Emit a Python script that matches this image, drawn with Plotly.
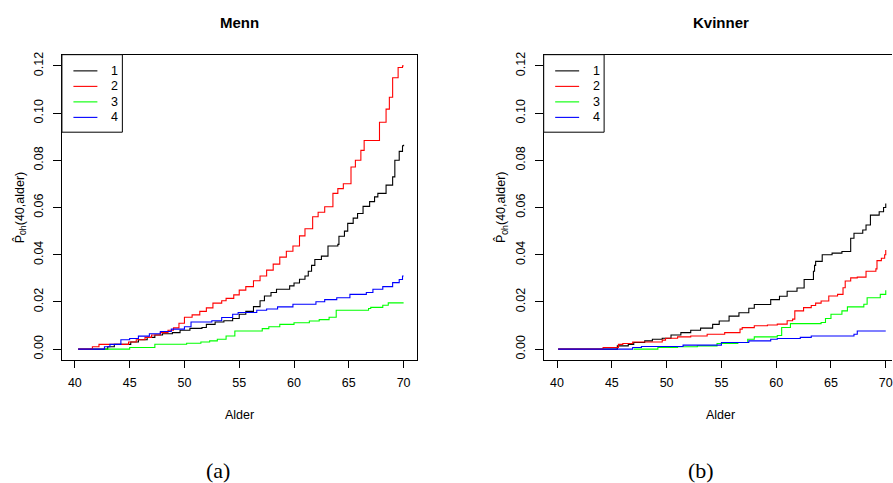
import plotly.graph_objects as go

# ---------------- data ----------------
groups = ["1", "2", "3", "4"]
colors = ["#000000", "#FF0000", "#00FF00", "#0000FF"]

# Menn (a)
menn_alder_1 = [40.3, 43.0, 43.6, 45.1, 45.8, 46.6, 47.3, 48.0, 48.9, 49.6, 50.5, 51.6, 52.0, 52.8, 53.6,
                54.4, 55.0, 55.6, 56.3, 56.9, 57.3, 57.9, 58.4, 59.6, 60.0, 60.5, 61.0, 61.3, 61.6, 61.9,
                62.5, 63.1, 64.0, 64.1, 64.6, 64.9, 65.4, 65.8, 66.3, 66.9, 67.35, 67.65, 68.4, 69.0,
                69.2, 69.6, 69.9, 70.0]
menn_p_1 = [0.0, 0.001, 0.002, 0.003, 0.004, 0.005, 0.006, 0.0065, 0.007, 0.008, 0.0088, 0.0092, 0.0105,
            0.0115, 0.012, 0.013, 0.0148, 0.016, 0.018, 0.0205, 0.0225, 0.024, 0.0254, 0.0268, 0.028,
            0.0296, 0.031, 0.033, 0.0355, 0.038, 0.0394, 0.0437, 0.0444, 0.0478, 0.050, 0.0533, 0.0555,
            0.0575, 0.0605, 0.0625, 0.0645, 0.066, 0.0695, 0.073, 0.080, 0.0838, 0.0862, 0.0866]

menn_alder_2 = [40.3, 41.6, 42.2, 44.9, 45.6, 46.4, 47.0, 47.8, 48.5, 49.0, 49.5, 50.0, 50.7, 51.4, 52.0,
                52.6, 53.4, 53.8, 54.5, 55.0, 55.6, 56.3, 56.9, 57.5, 58.1, 58.7, 59.3, 59.9, 60.5, 61.0,
                61.7, 62.2, 62.8, 63.55, 64.0, 64.5, 65.2, 65.6, 66.1, 66.4, 67.8, 68.4, 68.7, 69.0, 69.5,
                69.9, 70.0]
menn_p_2 = [0.0, 0.001, 0.002, 0.003, 0.004, 0.005, 0.006, 0.007, 0.008, 0.009, 0.011, 0.0135, 0.0145,
            0.016, 0.0175, 0.0195, 0.0205, 0.0215, 0.023, 0.025, 0.0265, 0.029, 0.031, 0.0335, 0.036,
            0.039, 0.0415, 0.0437, 0.048, 0.051, 0.0561, 0.058, 0.0603, 0.066, 0.068, 0.0701, 0.0772,
            0.080, 0.0842, 0.0884, 0.0961, 0.1017, 0.1067, 0.115, 0.1193, 0.120, 0.120]

menn_alder_3 = [42.7, 45.0, 47.3, 50.2, 51.5, 52.3, 53.0, 53.8, 54.6, 57.1, 57.7, 58.7, 60.0, 61.4, 62.3,
                63.2, 63.85, 66.8, 67.0, 68.1, 68.6, 70.0]
menn_p_3 = [0.0, 0.0007, 0.0021, 0.0025, 0.003, 0.0035, 0.0042, 0.0056, 0.0077, 0.0087, 0.0095, 0.0105,
            0.0112, 0.0119, 0.0125, 0.0135, 0.0165, 0.0172, 0.0177, 0.0186, 0.0196, 0.0196]

menn_alder_4 = [40.3, 42.7, 43.2, 44.2, 45.0, 45.8, 46.8, 47.8, 48.8, 50.0, 50.6, 52.5, 53.4, 54.4, 54.9,
                56.6, 57.5, 58.5, 59.9, 62.0, 62.8, 63.9, 65.1, 66.6, 67.2, 68.1, 69.0, 69.6, 69.9, 70.0]
menn_p_4 = [0.0, 0.001, 0.002, 0.004, 0.0045, 0.0055, 0.0065, 0.0075, 0.0085, 0.0095, 0.0115, 0.012,
            0.0134, 0.0148, 0.0155, 0.0165, 0.017, 0.0179, 0.019, 0.0201, 0.021, 0.0218, 0.0232, 0.024,
            0.0254, 0.0265, 0.0282, 0.0295, 0.031, 0.031]

# Kvinner (b)
kv_alder_1 = [40.1, 45.5, 46.5, 47.0, 48.0, 48.7, 49.6, 50.4, 51.3, 52.2, 53.1, 54.2, 54.8, 55.7, 56.6,
              57.5, 58.0, 59.5, 60.3, 61.0, 61.9, 62.55, 63.4, 63.5, 63.6, 64.2, 65.1, 66.0, 66.8, 67.1,
              67.9, 68.2, 68.6, 69.4, 69.8, 70.0]
kv_p_1 = [0.0, 0.0014, 0.002, 0.0028, 0.0035, 0.0042, 0.0046, 0.006, 0.007, 0.008, 0.0089, 0.0105,
          0.0119, 0.014, 0.0154, 0.0173, 0.0189, 0.021, 0.0224, 0.0245, 0.0259, 0.0295, 0.033, 0.0355,
          0.0372, 0.040, 0.0407, 0.0414, 0.047, 0.0491, 0.0505, 0.0526, 0.0568, 0.0582, 0.060, 0.0617]

kv_alder_2 = [40.1, 44.2, 45.6, 46.0, 46.9, 49.6, 49.9, 51.0, 52.2, 53.7, 55.3, 56.7, 56.9, 58.0, 59.2,
              60.1, 61.0, 61.5, 61.7, 62.5, 63.2, 63.6, 64.1, 64.8, 65.6, 66.1, 66.3, 66.8, 67.4, 68.2,
              69.1, 69.2, 69.6, 69.9, 70.0]
kv_p_2 = [0.0, 0.0007, 0.002, 0.0024, 0.003, 0.0038, 0.0046, 0.0052, 0.0056, 0.0063, 0.007, 0.0085,
          0.0091, 0.0099, 0.0102, 0.0106, 0.012, 0.0127, 0.0162, 0.0176, 0.0185, 0.0195, 0.0204, 0.0225,
          0.0232, 0.026, 0.0289, 0.0302, 0.0305, 0.033, 0.034, 0.0375, 0.0385, 0.040, 0.042]

kv_alder_3 = [47.0, 49.2, 51.0, 52.8, 54.6, 56.5, 57.4, 58.0, 60.1, 60.5, 61.3, 64.1, 64.5, 65.0, 66.0,
              66.5, 68.0, 68.3, 69.5, 70.0]
kv_p_3 = [0.0, 0.0007, 0.001, 0.0014, 0.0024, 0.0028, 0.0042, 0.0052, 0.0058, 0.0092, 0.0108, 0.0113,
          0.013, 0.0148, 0.0162, 0.0179, 0.019, 0.0218, 0.0232, 0.0249]

kv_alder_4 = [40.1, 46.9, 47.7, 51.5, 55.0, 57.5, 59.5, 60.1, 62.2, 63.2, 67.1, 67.4, 70.0]
kv_p_4 = [0.0, 0.0007, 0.0011, 0.0017, 0.0028, 0.0035, 0.0042, 0.0045, 0.005, 0.0056, 0.0063, 0.0077,
          0.0077]

x_ticks = [40, 45, 50, 55, 60, 65, 70]
y_ticks = [0.00, 0.02, 0.04, 0.06, 0.08, 0.10, 0.12]
y_ticktext = ["0.00", "0.02", "0.04", "0.06", "0.08", "0.10", "0.12"]
panel_titles = ["Menn", "Kvinner"]
captions = ["(a)", "(b)"]
x_title = "Alder"
y_title = "P\u0302<sub>0h</sub>(40,alder)"

# ---------------- figure ----------------
W, H = 893, 483
SANS = "Liberation Sans, Arial, sans-serif"
FS = 12.5

fig = go.Figure()

menn = [(menn_alder_1, menn_p_1), (menn_alder_2, menn_p_2), (menn_alder_3, menn_p_3), (menn_alder_4, menn_p_4)]
kv = [(kv_alder_1, kv_p_1), (kv_alder_2, kv_p_2), (kv_alder_3, kv_p_3), (kv_alder_4, kv_p_4)]

for i, (a, p) in enumerate(menn):
    fig.add_trace(go.Scatter(x=a, y=p, mode="lines", line=dict(color=colors[i], width=1.1, shape="hv"),
                             name=groups[i], xaxis="x", yaxis="y", showlegend=False))
for i, (a, p) in enumerate(kv):
    fig.add_trace(go.Scatter(x=a, y=p, mode="lines", line=dict(color=colors[i], width=1.1, shape="hv"),
                             name=groups[i], xaxis="x2", yaxis="y2", showlegend=False))

# panel geometry (pixels)
L1, R1 = 62.0, 417.0
L2 = 544.3
TOP, BOT = 52.0, 359.3

def px(v):
    return v / W

def py(v):
    return 1 - v / H

xcommon = dict(tickvals=x_ticks, ticks="outside", ticklen=7, tickwidth=1, tickcolor="black",
               showline=True, linecolor="black", linewidth=1, showgrid=False, zeroline=False,
               ticklabelstandoff=4, ticklabeloverflow="allow",
               tickfont=dict(family=SANS, size=FS, color="black"), fixedrange=True)
ycommon = dict(tickvals=y_ticks, ticktext=y_ticktext, tickangle=-90, ticks="outside", ticklen=8,
               tickwidth=1, tickcolor="black", showline=True, linecolor="black", linewidth=1,
               showgrid=False, zeroline=False, range=[-0.00463, 0.12476], ticklabelstandoff=5,
               tickfont=dict(family=SANS, size=FS, color="black"), fixedrange=True)

fig.update_layout(
    width=W, height=H, margin=dict(l=0, r=0, t=0, b=0),
    paper_bgcolor="white", plot_bgcolor="white", showlegend=False,
    xaxis=dict(domain=[px(L1), px(R1)], range=[38.82, 71.18], mirror=True, anchor="y", **xcommon),
    yaxis=dict(domain=[py(BOT), py(TOP)], mirror=True, anchor="x", **ycommon),
    xaxis2=dict(domain=[px(L2), 1.0], range=[38.78, 70.57], mirror=True, anchor="y2", **xcommon),
    yaxis2=dict(domain=[py(BOT), py(TOP)], mirror=False, anchor="x2", **ycommon),
)

centers = [(L1 + R1) / 2, L2 + (R1 - L1) / 2]
ytitle_x = [20.0, 20.0 + (L2 - L1)]
cap_x = [218.0, 701.7]
ann = []
shapes = []
for k in range(2):
    ann.append(dict(text="<b>" + panel_titles[k] + "</b>", x=px(centers[k]), y=py(20), xref="paper", yref="paper",
                    showarrow=False, xanchor="center", yanchor="middle",
                    font=dict(family=SANS, size=15, color="black")))
    ann.append(dict(text=x_title, x=px(centers[k]), y=py(415), xref="paper", yref="paper",
                    showarrow=False, xanchor="center", yanchor="middle",
                    font=dict(family=SANS, size=FS, color="black")))
    ann.append(dict(text=y_title, x=px(ytitle_x[k]), y=py((TOP + BOT) / 2), xref="paper", yref="paper",
                    showarrow=False, xanchor="center", yanchor="middle", textangle=-90,
                    font=dict(family=SANS, size=FS, color="black")))
    ann.append(dict(text=captions[k], x=px(cap_x[k]), y=py(470), xref="paper", yref="paper",
                    showarrow=False, xanchor="center", yanchor="middle",
                    font=dict(family="Liberation Serif, serif", size=22, color="black")))
    # legend box (R-style) in the top-left corner of each panel
    left = L1 if k == 0 else L2
    shapes.append(dict(type="rect", xref="paper", yref="paper", x0=px(left), x1=px(left + 60.5),
                       y0=py(130), y1=py(TOP), line=dict(color="black", width=1), fillcolor="white",
                       layer="above"))
    for i, g in enumerate(groups):
        yy = 68.3 + 15.6 * i
        shapes.append(dict(type="line", xref="paper", yref="paper", x0=px(left + 11.5), x1=px(left + 35.5),
                           y0=py(yy), y1=py(yy), line=dict(color=colors[i], width=1.1), layer="above"))
        ann.append(dict(text=g, x=px(left + 47), y=py(yy), xref="paper", yref="paper",
                        showarrow=False, xanchor="left", yanchor="middle",
                        font=dict(family=SANS, size=FS, color="black")))
fig.update_layout(annotations=ann, shapes=shapes)

fig.write_html("out.html")
